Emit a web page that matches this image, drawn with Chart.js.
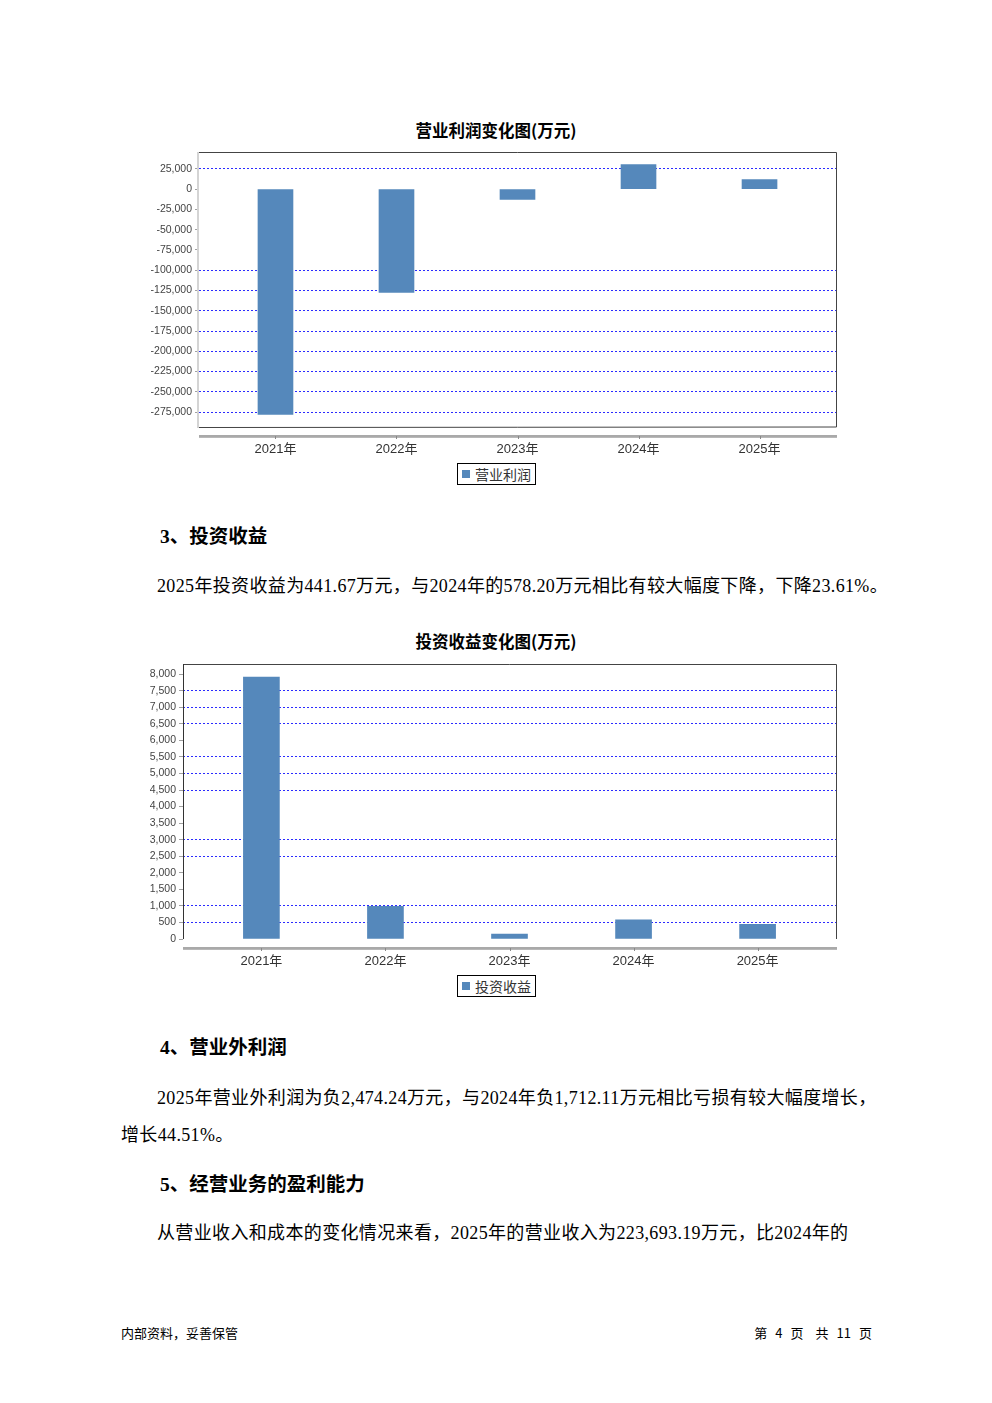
<!DOCTYPE html>
<html><head><meta charset="utf-8">
<script src="https://cdn.jsdelivr.net/npm/chart.js@4/dist/chart.umd.min.js"></script>
<style>
html,body{margin:0;padding:0;background:#fff;}
body{width:992px;height:1403px;position:relative;overflow:hidden;font-family:"Liberation Serif","Noto Sans CJK SC",serif;color:#000;}
.abs{position:absolute;white-space:nowrap;}
.ctitle{left:0;width:992px;text-align:center;font-family:"Noto Sans CJK SC",sans-serif;font-weight:bold;font-size:16.5px;line-height:20px;height:20px;}
.legend{box-sizing:border-box;border:1px solid #000;height:22px;width:79px;font-family:"Noto Sans CJK SC",sans-serif;font-size:14px;line-height:20px;color:#333;padding-left:17px;}
.legend i{position:absolute;left:4px;top:6px;width:8px;height:8px;background:#5588bb;}
.h{font-family:"Liberation Serif","Noto Sans CJK SC",serif;font-weight:bold;font-size:19.5px;line-height:26px;}
.p{font-family:"Liberation Serif","Noto Sans CJK SC",serif;font-size:18px;line-height:37px;letter-spacing:0.35px;}
.f{font-family:"Noto Sans CJK SC",sans-serif;font-size:13px;line-height:18px;}
.f span{display:inline-block;margin:0 8px;}
.f b{display:inline-block;width:12px;}
canvas{position:absolute;}
</style>
</head><body>
<div class="abs ctitle" style="top:120px;">营业利润变化图(万元)</div>
<div id="w1" class="abs" style="left:120px;top:140px;width:740px;height:320px;"><canvas id="c1"></canvas></div>
<div class="abs legend" style="left:457px;top:463px;"><i></i>营业利润</div>

<div class="abs h" style="left:160px;top:524px;">3、投资收益</div>
<div class="abs p" style="left:157px;top:568px;">2025年投资收益为441.67万元，与2024年的578.20万元相比有较大幅度下降，下降23.61%。</div>

<div class="abs ctitle" style="top:631px;">投资收益变化图(万元)</div>
<div id="w2" class="abs" style="left:120px;top:652px;width:740px;height:320px;"><canvas id="c2"></canvas></div>
<div class="abs legend" style="left:457px;top:975px;"><i></i>投资收益</div>

<div class="abs h" style="left:160px;top:1035px;">4、营业外利润</div>
<div class="abs p" style="left:121px;top:1080px;text-indent:36px;">2025年营业外利润为负2,474.24万元，与2024年负1,712.11万元相比亏损有较大幅度增长，<br>增长44.51%。</div>

<div class="abs h" style="left:160px;top:1172px;">5、经营业务的盈利能力</div>
<div class="abs p" style="left:157px;top:1215px;">从营业收入和成本的变化情况来看，2025年的营业收入为223,693.19万元，比2024年的</div>

<div class="abs f" style="left:121px;top:1324px;">内部资料，妥善保管</div>
<div class="abs f" style="right:120px;top:1324px;">第<span>4</span>页<b></b>共<span>11</span>页</div>

<script>
// ---- data ----
const years = ['2021年', '2022年', '2023年', '2024年', '2025年'];
const opProfit = [-278000, -127500, -12600, 30400, 11800];
const opTicks = [25000, 0, -25000, -50000, -75000, -100000, -125000, -150000, -175000, -200000, -225000, -250000, -275000];
const opGridShown = [25000, -100000, -125000, -150000, -175000, -200000, -225000, -250000, -275000];
const invIncome = [7910, 990, 150, 578.20, 441.67];
const invTicks = [8000, 7500, 7000, 6500, 6000, 5500, 5000, 4500, 4000, 3500, 3000, 2500, 2000, 1500, 1000, 500, 0];
const invGridShown = [7500, 7000, 6500, 5500, 5000, 4500, 3000, 2500, 1000, 500];

const BAR = '#5588bb';

const framePlugin = {
  id: 'frame',
  afterDraw(chart, args, o) {
    const ctx = chart.ctx;
    const {left, right, top, bottom} = chart.chartArea;
    ctx.save();
    ctx.lineWidth = 1;
    ctx.strokeStyle = '#444';
    ctx.beginPath();
    ctx.moveTo(left, top + 0.5);
    ctx.lineTo(right + 0.5, top + 0.5);
    ctx.lineTo(right + 0.5, bottom);
    if (o.bottomBorder) ctx.lineTo(left, bottom + 0.5);
    ctx.stroke();
    ctx.beginPath();
    if (o.leftLight) { ctx.strokeStyle = '#d4d4d4'; ctx.lineWidth = 2; ctx.moveTo(left - 1, top); ctx.lineTo(left - 1, bottom + 1); }
    else { ctx.strokeStyle = '#333'; ctx.lineWidth = 1; ctx.moveTo(left + 0.5, top); ctx.lineTo(left + 0.5, bottom); }
    ctx.stroke();
    const y = bottom + o.gap;
    ctx.strokeStyle = '#8c8c8c';
    ctx.lineWidth = 1.5;
    ctx.beginPath();
    ctx.moveTo(left, y); ctx.lineTo(right + 1, y);
    ctx.stroke();
    ctx.strokeStyle = '#b8b8b8';
    ctx.lineWidth = 1;
    ctx.beginPath();
    ctx.moveTo(left, y + 1.5); ctx.lineTo(right + 1, y + 1.5);
    ctx.stroke();
    const xs = chart.scales.x;
    ctx.strokeStyle = '#888';
    ctx.beginPath();
    years.forEach((_, i) => { const px = Math.round(xs.getPixelForValue(i)) + 0.5; ctx.moveTo(px, y); ctx.lineTo(px, y + 3); });
    ctx.stroke();
    ctx.restore();
  }
};

function makeChart(id, label, values, ticks, gridShown, yMin, yMax, yWidth, barW, frameOpts) {
  return new Chart(document.getElementById(id), {
    type: 'bar',
    data: {
      datasets: [{
        label: label,
        data: years.map((_, i) => ({x: i, y: values[i]})),
        backgroundColor: BAR,
        borderWidth: 0,
        barThickness: barW
      }]
    },
    options: {
      responsive: true,
      maintainAspectRatio: false,
      animation: false,
      devicePixelRatio: 1,
      layout: {padding: {left: 0, right: 24, top: 12, bottom: 0}},
      plugins: {legend: {display: false}, title: {display: false}, tooltip: {enabled: false}, frame: frameOpts},
      scales: {
        x: {
          type: 'linear',
          offset: false,
          min: -0.632, max: 4.632,
          afterBuildTicks: s => { s.ticks = years.map((_, i) => ({value: i})); },
          afterFit: s => { s.height = 33; },
          grid: {display: false, drawTicks: false, offset: false},
          border: {display: false},
          ticks: {
            padding: 15,
            autoSkip: false,
            maxRotation: 0,
            color: '#333',
            font: {family: '"Liberation Sans","Noto Sans CJK SC",sans-serif', size: 13},
            callback: v => years[v]
          }
        },
        y: {
          type: 'linear',
          min: yMin, max: yMax,
          afterBuildTicks: s => { s.ticks = ticks.map(v => ({value: v})); },
          afterFit: s => { s.width = yWidth; },
          border: {display: false, dash: [2, 2]},
          grid: {
            color: c => (c.tick && gridShown.includes(c.tick.value)) ? '#2b2bff' : 'rgba(0,0,0,0)',
            lineWidth: 1,
            drawTicks: true,
            tickLength: 4,
            tickColor: '#a0a0a0',
            tickBorderDash: []
          },
          ticks: {
            padding: 3,
            color: '#444',
            font: {family: '"Liberation Sans",sans-serif', size: 10.5},
            callback: v => v.toLocaleString('en-US')
          }
        }
      }
    },
    plugins: [framePlugin]
  });
}

// JFreeChart-style 5% margins on the data range
const o1min = Math.min(0, ...opProfit), o1max = Math.max(0, ...opProfit);
const s1 = o1max - o1min;
makeChart('c1', '营业利润', opProfit, opTicks, opGridShown, o1min - 0.05 * s1, o1max + 0.05 * s1, 79, 35,
  {bottomBorder: true, leftLight: true, gap: 9});

const i2max = Math.max(...invIncome);
makeChart('c2', '投资收益', invIncome, invTicks, invGridShown, 0, i2max * 1.05, 63, 36,
  {bottomBorder: false, leftLight: false, gap: 9});
</script>
</body></html>
